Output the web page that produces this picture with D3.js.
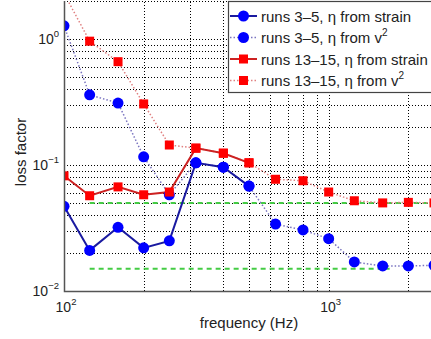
<!DOCTYPE html>
<html>
<head>
<meta charset="utf-8">
<script src="https://cdn.jsdelivr.net/npm/d3@7"></script>
<style>
  body { margin: 0; background: #fff; overflow: hidden; }
  svg { display: block; font-family: "Liberation Sans", Arial, sans-serif; }
</style>
</head>
<body>
<div id="chart"></div>
<script>
// 1/3 octave band centres (Hz)
const freqs = [100, 125, 160, 200, 250, 315, 400, 500, 630, 800, 1000, 1250, 1600, 2000, 2500];

// loss factor, runs 3-5
const blueStrain = [0.047, 0.021, 0.032, 0.022, 0.025, 0.104, 0.096, 0.068];
const blueV2 = [1.27, 0.36, 0.31, 0.116, 0.058, 0.104, 0.096, 0.068, 0.034, 0.0305, 0.026, 0.017, 0.0158, 0.0158, 0.016];

// loss factor, runs 13-15
const redStrain = [0.082, 0.057, 0.067, 0.058, 0.061, 0.136, 0.124, 0.104];
const redV2 = [2.3, 0.96, 0.66, 0.305, 0.144, 0.136, 0.124, 0.104, 0.077, 0.075, 0.061, 0.052, 0.05, 0.0505, 0.05];

// green reference levels
const refLevels = [0.05, 0.015];
const refFrom = [125, 125];
const refTo = [2500, 1700];

const legendLabels = ["runs 3\u20135, \u03b7 from strain", "runs 3\u20135, \u03b7 from v", "runs 13\u201315, \u03b7 from strain", "runs 13\u201315, \u03b7 from v"];
const legendSup = ["", "2", "", "2"];

const xTicks = [100, 1000];
const yTicks = [0.01, 0.1, 1];

const width = 431, height = 339;
const margin = { top: 1, left: 64, bottom: 48 };
const plotRight = 434;

const svg = d3.select("#chart").append("svg")
  .attr("width", width).attr("height", height);

const x = d3.scaleLog().domain([100, 2500]).range([margin.left, plotRight]);
const y = d3.scaleLog().domain([0.01, 2]).range([height - margin.bottom, margin.top]);

svg.append("defs").append("clipPath").attr("id", "clip")
  .append("rect")
  .attr("x", margin.left).attr("y", margin.top)
  .attr("width", plotRight - margin.left)
  .attr("height", y.range()[0] - margin.top);

// grid
const xGrid = [200, 300, 400, 500, 600, 700, 800, 900, 1000, 2000];
const yGrid = [];
[0.01, 0.1, 1].forEach(d => { for (let k = 1; k < 10; k++) if (d * k <= 2) yGrid.push(d * k); });

const grid = svg.append("g").attr("stroke", "#000").attr("stroke-width", 1).attr("stroke-dasharray", "1,2");
grid.selectAll(".gx").data(xGrid).join("line")
  .attr("x1", d => Math.round(x(d)) + 0.5).attr("x2", d => Math.round(x(d)) + 0.5)
  .attr("y1", y.range()[0]).attr("y2", margin.top);
grid.selectAll(".gy").data(yGrid.filter(d => d > 0.01)).join("line")
  .attr("x1", margin.left).attr("x2", plotRight)
  .attr("y1", d => Math.round(y(d)) + 0.5).attr("y2", d => Math.round(y(d)) + 0.5);

const plot = svg.append("g").attr("clip-path", "url(#clip)");

// green dashed reference lines
plot.selectAll(".ref").data(refLevels).join("line")
  .attr("x1", (d, i) => x(refFrom[i])).attr("x2", (d, i) => x(refTo[i]))
  .attr("y1", d => y(d)).attr("y2", d => y(d))
  .attr("stroke", "#44cc44").attr("stroke-width", 2).attr("stroke-dasharray", "5,4");

const line = d3.line().x(d => x(d[0])).y(d => y(d[1]));
const pairs = vals => vals.map((v, i) => [freqs[i], v]);

const series = [
  { vals: blueV2, color: "#0000ff", stroke: "#7a74c0", dotted: true, shape: "circle" },
  { vals: redV2, color: "#ff0000", stroke: "#e08080", dotted: true, shape: "square" },
  { vals: blueStrain, color: "#0000ff", stroke: "#1a1aa0", dotted: false, shape: "circle" },
  { vals: redStrain, color: "#ff0000", stroke: "#cc2222", dotted: false, shape: "square" }
];

function styleLine(sel, s) {
  sel.attr("fill", "none").attr("stroke", s.stroke)
    .attr("stroke-width", s.dotted ? 1.5 : 2)
    .attr("stroke-dasharray", s.dotted ? "1.5,2" : null);
}

series.forEach(s => {
  plot.append("path").datum(pairs(s.vals)).attr("d", line).call(styleLine, s);
});

function drawMarker(g, shape, color, cx, cy) {
  if (shape === "circle") {
    g.append("circle").attr("cx", cx).attr("cy", cy).attr("r", 5.5).attr("fill", color);
  } else {
    g.append("rect").attr("x", cx - 4.5).attr("y", cy - 4.5).attr("width", 9).attr("height", 9).attr("fill", color);
  }
}

series.forEach(s => {
  pairs(s.vals).forEach(p => drawMarker(plot, s.shape, s.color, x(p[0]), y(p[1])));
});

// axes box
svg.append("path")
  .attr("d", `M${margin.left + 0.5},${margin.top}V${y.range()[0] + 0.5}H${plotRight}`)
  .attr("fill", "none").attr("stroke", "#555").attr("stroke-width", 1.5);

// tick labels (10^n)
function powerLabel(g, xPos, yPos, exp, anchor) {
  const t = g.append("text").attr("x", xPos).attr("y", yPos).attr("text-anchor", anchor)
    .attr("font-size", 14).attr("fill", "#222");
  t.append("tspan").text("10");
  t.append("tspan").attr("dy", -7).attr("font-size", 9.5).text(exp);
}
yTicks.forEach(d => powerLabel(svg, margin.left - 5, y(d) + 5, d3.format("d")(Math.log10(d)).replace("-", "\u2212"), "end"));
xTicks.forEach(d => powerLabel(svg, x(d) + 2, y.range()[0] + 21, String(Math.log10(d)), "middle"));

// axis titles
svg.append("text")
  .attr("x", 249).attr("y", 328).attr("text-anchor", "middle")
  .attr("font-size", 15).attr("fill", "#222").text("frequency (Hz)");
svg.append("text")
  .attr("transform", `translate(26,${152}) rotate(-90)`).attr("text-anchor", "middle")
  .attr("font-size", 15).attr("fill", "#222").text("loss factor");

// legend
const lg = svg.append("g");
lg.append("rect").attr("x", 228.5).attr("y", 1.5).attr("width", 210).attr("height", 91)
  .attr("fill", "#fff").attr("stroke", "#444").attr("stroke-width", 1.2);
const legendStyle = [series[2], series[0], series[3], series[1]];
legendLabels.forEach((lab, i) => {
  const ly = 16 + i * 21.5;
  const s = legendStyle[i];
  lg.append("line").attr("x1", 230).attr("x2", 257).attr("y1", ly).attr("y2", ly).call(styleLine, s);
  drawMarker(lg, s.shape, s.color, 243.5, ly);
  const t = lg.append("text")
    .attr("x", 261).attr("y", ly + 5.5)
    .attr("font-size", 15).attr("fill", "#222");
  t.append("tspan").text(lab);
  if (legendSup[i]) t.append("tspan").attr("dy", -7).attr("font-size", 10).text(legendSup[i]);
});
</script>
</body>
</html>
